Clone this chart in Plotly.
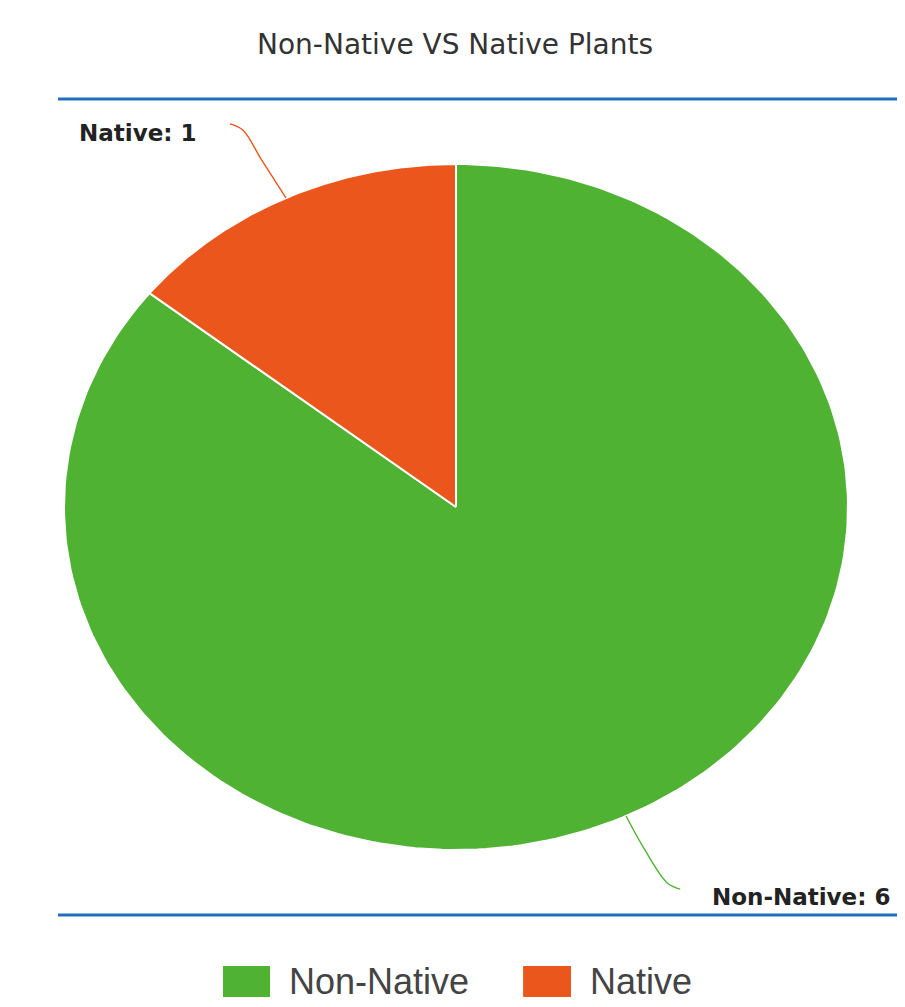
import numpy as np
import plotly.graph_objects as go

# ---- data ----
categories = ["Non-Native", "Native"]
values = [6, 1]
colors = ["#4fb233", "#ea561c"]
title_text = "Non-Native VS Native Plants"

total = sum(values)
fig = go.Figure()

# slices drawn clockwise from 12 o'clock, on a unit circle in data space
start = 90.0
mids = []
for cat, val, col in zip(categories, values, colors):
    sweep = 360.0 * val / total
    ang = np.radians(np.linspace(start, start - sweep, 240))
    xs = np.concatenate([[0], np.cos(ang), [0]])
    ys = np.concatenate([[0], np.sin(ang), [0]])
    fig.add_trace(go.Scatter(x=xs, y=ys, mode="lines", fill="toself",
                             fillcolor=col, line=dict(color="white", width=2),
                             name=cat, showlegend=False, hoverinfo="name"))
    mids.append(np.radians(start - sweep / 2))
    start -= sweep

# connector paths (offsets from slice mid-point on the rim) and label placement
label_cfg = [
    dict(path=[(0.048, -0.099), (0.105, -0.195), (0.138, -0.213)],
         lab=(0.077, -0.023), xanchor="left"),     # Non-Native
    dict(path=[(-0.062, 0.111), (-0.110, 0.198), (-0.143, 0.216)],
         lab=(-0.082, -0.026), xanchor="right"),   # Native
]
for i, (cat, val) in enumerate(zip(categories, values)):
    cx, cy = np.cos(mids[i]), np.sin(mids[i])
    c = label_cfg[i]
    xs = [cx] + [cx + d[0] for d in c["path"]]
    ys = [cy] + [cy + d[1] for d in c["path"]]
    fig.add_trace(go.Scatter(x=xs, y=ys, mode="lines",
                             line=dict(color=colors[i], width=1.4, shape="spline"),
                             showlegend=False, hoverinfo="skip"))
    fig.add_annotation(x=xs[-1] + c["lab"][0], y=ys[-1] + c["lab"][1],
                       text=f"<b>{cat}: {val}</b>", showarrow=False,
                       xanchor=c["xanchor"], yanchor="middle",
                       font=dict(family="DejaVu Sans", size=23, color="#222222"))

# legend drawn manually (large swatches)
legend_swatch = [(0.193, 0.248), (0.544, 0.600)]
legend_text_x = [0.268, 0.620]
for i, cat in enumerate(categories):
    x0, x1 = legend_swatch[i]
    fig.add_shape(type="rect", xref="paper", yref="paper",
                  x0=x0, x1=x1, y0=-0.1005, y1=-0.0625,
                  fillcolor=colors[i], line=dict(width=0))
    fig.add_annotation(xref="paper", yref="paper", x=legend_text_x[i], y=-0.082,
                       text=cat, showarrow=False, xanchor="left", yanchor="middle",
                       font=dict(family="Liberation Sans, Arial", size=36, color="#444444"))

# blue border lines top and bottom of plot area
for yv in (0, 1):
    fig.add_shape(type="line", xref="paper", yref="paper", x0=0, x1=1, y0=yv, y1=yv,
                  line=dict(color="#1f6fc0", width=3))

fig.update_layout(
    width=905, height=1007,
    margin=dict(l=50, r=0, t=91, b=100),
    paper_bgcolor="white", plot_bgcolor="white",
    title=dict(text=title_text, x=0.494, xanchor="center", y=0.964, yanchor="middle",
               font=dict(family="DejaVu Sans", size=28, color="#333333")),
    xaxis=dict(range=[-398 / 392, 457 / 392], visible=False, fixedrange=True),
    yaxis=dict(range=[-408 / 343, 408 / 343], visible=False, fixedrange=True),
    showlegend=False,
)

fig.write_html("out.html")
